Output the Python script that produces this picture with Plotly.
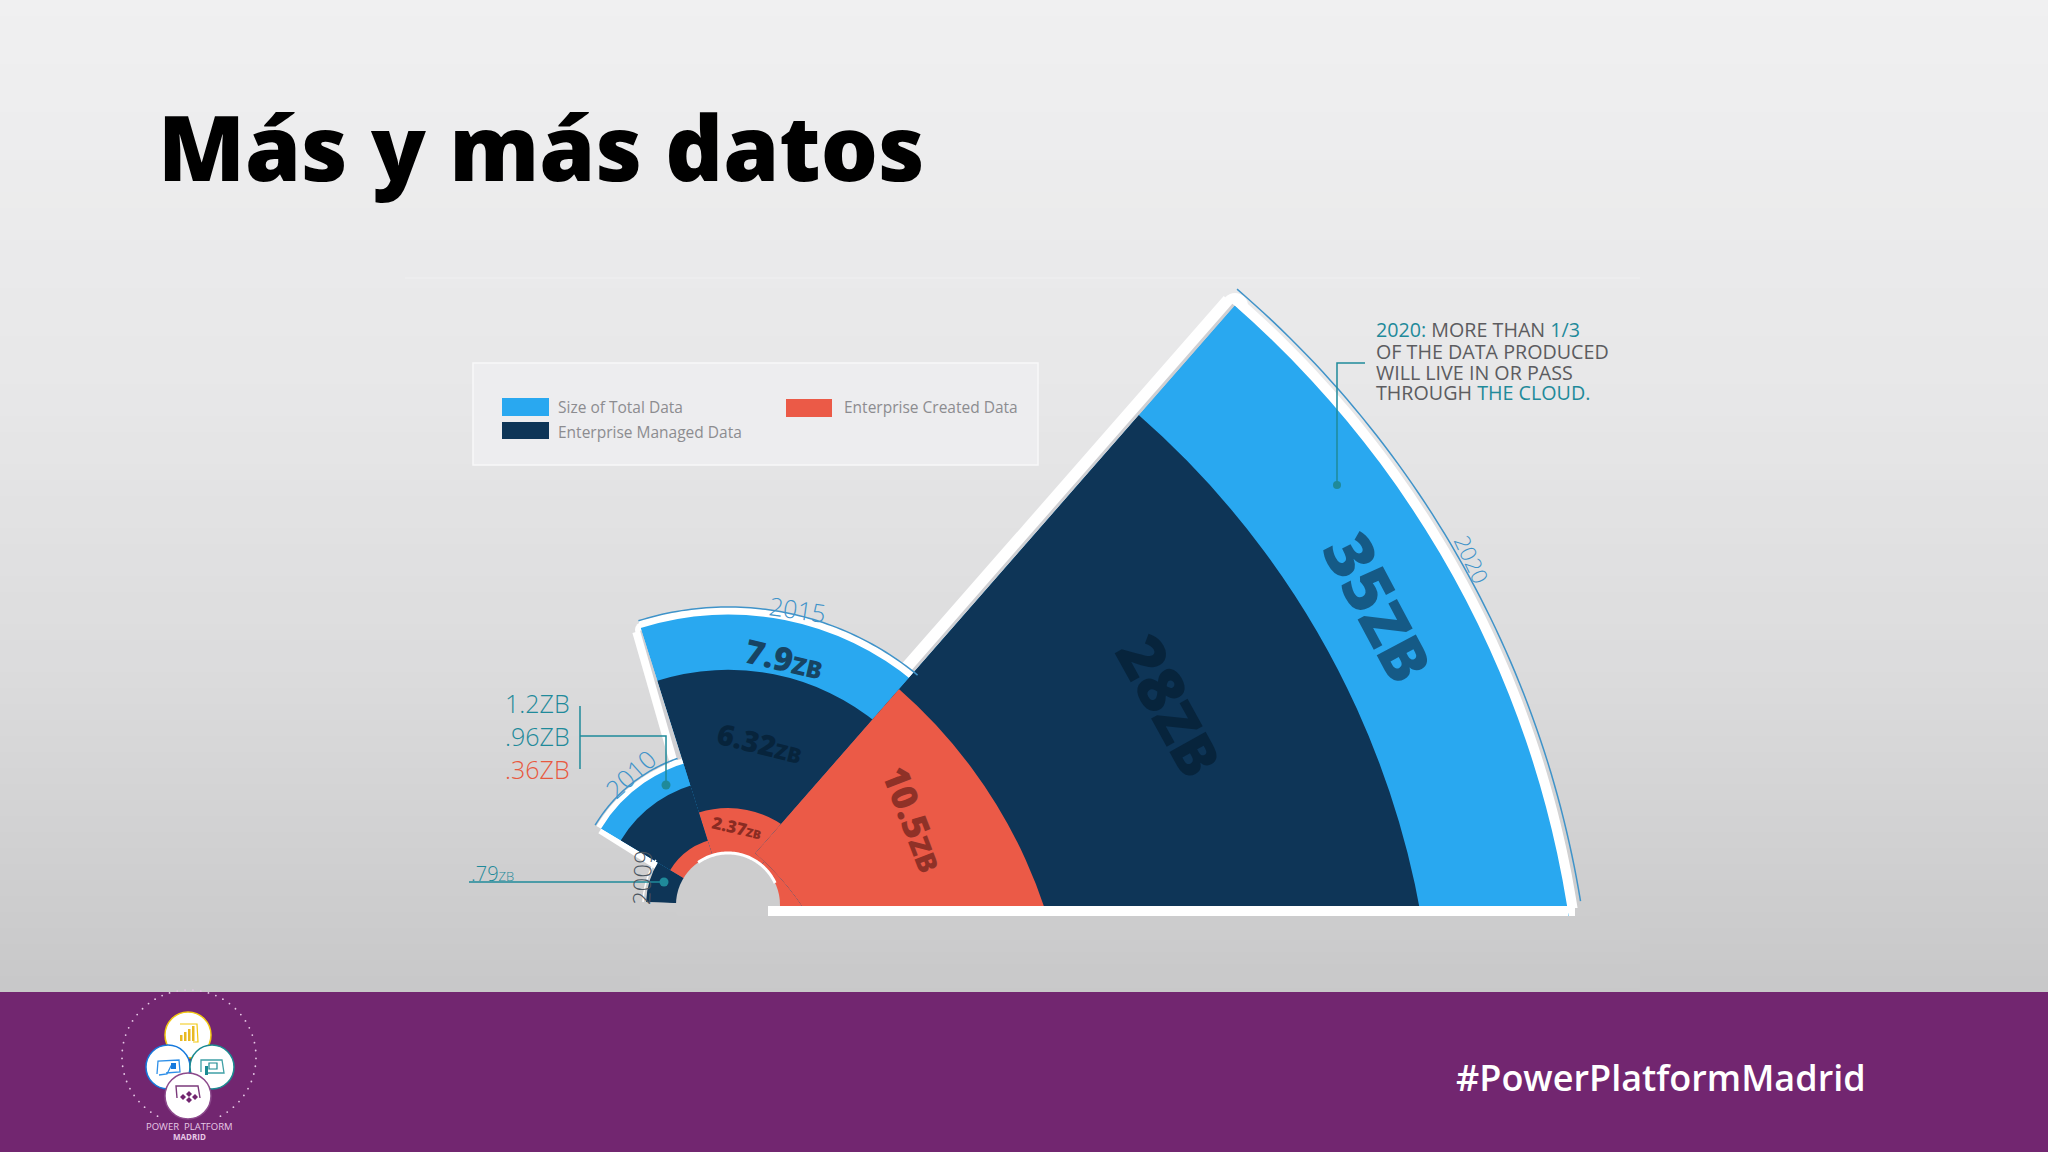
import math
import plotly.graph_objects as go

W, H = 2048, 1152

# values in ZB, one entry per year
years = ['2009', '2010', '2015', '2020']
total_data = [0.79, 1.2, 7.9, 35]
managed_data = [None, 0.96, 6.32, 28]
created_data = [None, 0.36, 2.37, 10.5]

legend_labels = ['Size of Total Data', 'Enterprise Managed Data', 'Enterprise Created Data']

BLUE = '#29A8F0'
NAVY = '#0E3557'
RED = '#EB5A47'
TEAL = '#1F8A9A'
YEAR_BLUE = '#3F93C9'
PURPLE = '#722670'
RIM_SHADE = '#CFCFD2'
FONT = 'Open Sans'

# per year: centre px, px at zero, px per ZB, top of axis, angular sector
polars = {
    '2009': dict(name='polar', cx=728, cy=905, r0=33, k=62, top=0.8, a0=148, a1=178),
    '2010': dict(name='polar2', cx=728, cy=905, r0=33, k=96, top=1.25, a0=100, a1=149),
    '2015': dict(name='polar3', cx=728, cy=905, r0=14, k=35, top=8, a0=50, a1=107.5),
    '2020': dict(name='polar4', cx=568, cy=1067, r0=284, k=20.8, top=36, a0=0, a1=48.8),
}


def px(x):
    return x / W


def py(y):
    return 1 - y / H


def bg_color(y):
    stops = [(0, 240), (400, 231), (700, 218), (992, 200)]
    for (y0, c0), (y1, c1) in zip(stops, stops[1:]):
        if y <= y1:
            c = c0 + (c1 - c0) * (y - y0) / (y1 - y0)
            return f'rgb({c:.0f},{c:.0f},{c + 1:.0f})'
    return 'rgb(200,200,201)'


def rect(x0, y0, x1, y1, fill, layer='above', line=None, lw=0):
    return dict(type='rect', xref='paper', yref='paper', x0=px(x0), x1=px(x1), y0=py(y0), y1=py(y1),
                fillcolor=fill, line=dict(color=line or fill, width=lw), layer=layer)


def circle(cx, cy, r, fill, layer='above', line=None, lw=0):
    return dict(type='circle', xref='paper', yref='paper', x0=px(cx - r), x1=px(cx + r),
                y0=py(cy - r), y1=py(cy + r), fillcolor=fill,
                line=dict(color=line or fill, width=lw), layer=layer)


def segment(points, color, lw, layer='above'):
    path = 'M' + 'L'.join(f'{px(x):.5f},{py(y):.5f}' for x, y in points)
    return dict(type='path', xref='paper', yref='paper', path=path,
                line=dict(color=color, width=lw), layer=layer)


def arc(cx, cy, r, a0, a1, color, lw, layer='above'):
    n = 60
    pts = []
    for i in range(n + 1):
        a = math.radians(a0 + (a1 - a0) * i / n)
        pts.append((cx + r * math.cos(a), cy - r * math.sin(a)))
    return segment(pts, color, lw, layer)


def note(x, y, text, size, color, angle=0, anchor='center', family=FONT, weight=400):
    return dict(xref='paper', yref='paper', x=px(x), y=py(y), text=text, showarrow=False,
                xanchor=anchor, yanchor='middle', textangle=angle,
                font=dict(family=family, size=size, color=color, weight=weight))


def zb(num, small):
    return f'{num}<span style="font-size:{small}px">ZB</span>'


fig = go.Figure()

for i, year in enumerate(years):
    p = polars[year]
    mid = (p['a0'] + p['a1']) / 2
    span = p['a1'] - p['a0']
    sub = p['name']
    series = [(total_data[i], BLUE, legend_labels[0]), (managed_data[i], NAVY, legend_labels[1]),
              (created_data[i], RED, legend_labels[2])]
    if year == '2009':
        series = [(total_data[i], NAVY, legend_labels[1])]
    for val, col, label in series:
        fig.add_trace(go.Barpolar(r=[val], theta=[mid], width=[span], marker=dict(color=col, line=dict(width=0)),
                                  name=label, subplot=sub, showlegend=False, hoverinfo='skip'))

polar_layouts = {}
for year in years:
    p = polars[year]
    R = p['r0'] + p['k'] * p['top']
    c0, c1 = math.cos(math.radians(p['a0'])), math.cos(math.radians(p['a1']))
    s0, s1 = math.sin(math.radians(p['a0'])), math.sin(math.radians(p['a1']))
    xs = [c0, c1, 0]
    ys = [s0, s1, 0]
    if p['a0'] <= 90 <= p['a1']:
        ys.append(1)
    left, right = p['cx'] + R * min(xs), p['cx'] + R * max(xs)
    top, bottom = p['cy'] - R * max(ys), p['cy'] - R * min(ys)
    polar_layouts[p['name']] = dict(
        domain=dict(x=[px(left), px(right)], y=[py(bottom), py(top)]),
        sector=[p['a0'], p['a1']],
        hole=p['r0'] / R,
        bgcolor='rgba(0,0,0,0)',
        radialaxis=dict(range=[0, p['top']], visible=False),
        angularaxis=dict(visible=False, direction='counterclockwise', rotation=0),
        barmode='overlay',
    )

shapes = []

# slide background
for y in range(0, 992, 16):
    shapes.append(rect(0, y, W, y + 16, bg_color(y + 8), layer='below'))
shapes.append(rect(405, 277, 1640, 279, '#EDEDEE', layer='below'))

# white rims sit under the bars
shapes.append(circle(745, 890, 60, 'white', layer='below'))
shapes.append(arc(568, 1067, 274, 32, 48.8, RED, 22, 'below'))
shapes.append(arc(568, 1067, 1012, 5, 48.8, '#FFFFFF', 20, 'below'))
shapes.append(circle(1235, 306, 13, '#FFFFFF', layer='below'))
shapes.append(segment([(905, 683), (1235, 306)], '#FFFFFF', 30, 'below'))
shapes.append(segment([(905, 683), (1235, 306)], RIM_SHADE, 7, 'below'))
shapes.append(arc(728, 905, 291, 50, 107.5, '#FFFFFF', 14, 'below'))
shapes.append(circle(643, 630, 8, '#FFFFFF', layer='below'))
shapes.append(segment([(643, 630), (707, 853)], '#FFFFFF', 22, 'below'))
shapes.append(segment([(643, 630), (707, 853)], RIM_SHADE, 6, 'below'))
shapes.append(arc(728, 905, 148, 100, 149, '#FFFFFF', 11, 'below'))
shapes.append(segment([(601, 829), (660, 866)], '#FFFFFF', 10, 'below'))

# inner hole
shapes.append(circle(728, 905, 52, bg_color(905)))
shapes.append(arc(728, 905, 52, 25, 125, '#FFFFFF', 3))

# hide what falls below the flat bottom edge of the 2020 wedge
for y in range(916, 992, 12):
    shapes.append(rect(640, y, 1640, y + 12, bg_color(y + 6)))
shapes.append(rect(1575, 908, 1600, 916, bg_color(912)))
shapes.append(rect(768, 906, 1568, 916, '#FFFFFF'))

# year arcs
shapes.append(arc(568, 1067, 1026, 9.3, 49.3, YEAR_BLUE, 1.5))
shapes.append(arc(728, 905, 298, 50.5, 107.5, YEAR_BLUE, 1.5))
shapes.append(arc(728, 905, 155, 109, 149, YEAR_BLUE, 1.5))
shapes.append(arc(728, 905, 85, 148, 178, '#FFFFFF', 1.5))

# legend panel
shapes.append(dict(type='rect', xref='paper', yref='paper', x0=px(473), x1=px(1038), y0=py(363), y1=py(465),
                   fillcolor='#EDEDEF', line=dict(color='#F8F8F9', width=1.5), layer='above'))
shapes.append(rect(502, 398, 549, 416, BLUE))
shapes.append(rect(502, 422, 549, 439, NAVY))
shapes.append(rect(786, 399, 832, 417, RED))

# callout leaders
shapes.append(segment([(580, 706), (580, 769)], TEAL, 1.5))
shapes.append(segment([(580, 736), (666, 736), (666, 785)], TEAL, 1.5))
shapes.append(circle(666, 785, 4.5, TEAL))
shapes.append(segment([(469, 882), (664, 882)], TEAL, 1.5))
shapes.append(circle(664, 882, 4.5, TEAL))
shapes.append(segment([(1365, 363), (1337, 363), (1337, 485)], TEAL, 1.5))
shapes.append(circle(1337, 485, 4, TEAL))

# footer band
shapes.append(rect(0, 992, W, H, PURPLE))

# logo
for i in range(46):
    a = math.radians(-62 + i * 304 / 45)
    shapes.append(circle(189 + 67 * math.cos(a), 1057 - 67 * math.sin(a), 0.9, '#E7C9E6'))
shapes.append(circle(188, 1035, 23, 'white', line='#F2C811', lw=1.5))
shapes.append(circle(168, 1067, 22, 'white', line='#1679DD', lw=1.5))
shapes.append(circle(212, 1067, 22, 'white', line='#1B8A92', lw=1.5))
shapes.append(circle(188, 1096, 23, 'white', line='#8C4A8C', lw=1.5))
for bx, btop in zip([180, 184, 188, 192], [1035, 1032, 1029, 1026]):
    shapes.append(rect(bx, btop, bx + 2.5, 1041, '#E8B923'))
shapes.append(segment([(180, 1024), (197, 1024), (198, 1042), (193, 1042)], '#F2C811', 1.2))
shapes.append(segment([(157, 1074), (158, 1061), (179, 1060), (180, 1072), (166, 1073)], '#2E8FE8', 1.3))
shapes.append(segment([(159, 1075), (167, 1074), (171, 1066), (174, 1066)], '#2E8FE8', 1.3))
shapes.append(rect(171, 1063, 176, 1069, '#1679DD'))
shapes.append(segment([(201, 1072), (201, 1060), (222, 1060), (224, 1073), (208, 1073)], '#3FA0A6', 1.3))
shapes.append(rect(205, 1066, 208, 1075, '#1B8A92'))
shapes.append(rect(209, 1063, 217, 1069, 'white', line='#1B8A92', lw=1.2))
shapes.append(segment([(177, 1098), (176, 1086), (198, 1086), (200, 1098)], '#7B3A7B', 1.4))
for dx, dy in [(183, 1097), (189, 1094), (189, 1100), (195, 1097)]:
    shapes.append(dict(type='path', xref='paper', yref='paper', layer='above', fillcolor='#722670',
                       line=dict(width=0),
                       path=(f'M{px(dx - 3):.5f},{py(dy):.5f}L{px(dx):.5f},{py(dy - 3):.5f}'
                             f'L{px(dx + 3):.5f},{py(dy):.5f}L{px(dx):.5f},{py(dy + 3):.5f}Z')))

DARK_NAVY = '#07243C'
GREY_TEXT = '#5C5C60'
annotations = [
    note(156, 146, 'Más y más datos', 90, '#000000', anchor='left', family='Noto Sans', weight=900),
    note(1868, 1077, '#PowerPlatformMadrid', 36, '#FFFFFF', anchor='right', weight=600),
    note(556, 407, legend_labels[0], 15.5, '#8C8C90', anchor='left'),
    note(556, 432, legend_labels[1], 15.5, '#8C8C90', anchor='left'),
    note(842, 407, legend_labels[2], 15.5, '#8C8C90', anchor='left'),
    note(1380, 606, zb('35', 62), 66, '#155A86', angle=62, weight=800),
    note(1172, 705, zb('28', 58), 64, DARK_NAVY, angle=61, weight=800),
    note(914, 819, zb('10.5', 28), 36, '#8F3127', angle=69, weight=800),
    note(784, 658, zb('7.9', 24), 33, '#174463', angle=13, weight=800),
    note(760, 742, zb('6.32', 21), 29, DARK_NAVY, angle=14, weight=800),
    note(737, 827, zb('2.37', 12), 17, '#8A2B22', angle=13, weight=800),
    note(1472, 559, '2020', 22, YEAR_BLUE, angle=65, weight=300),
    note(797, 609, '2015', 25, YEAR_BLUE, angle=8, weight=300),
    note(630, 774, '2010', 25, YEAR_BLUE, angle=-42, weight=300),
    note(641, 878, '2009', 24, '#4A5560', angle=-88, weight=300),
    note(572, 703, '1.2ZB', 25, TEAL, anchor='right', weight=300),
    note(572, 736, '.96ZB', 25, TEAL, anchor='right', weight=300),
    note(572, 769, '.36ZB', 25, '#E8593F', anchor='right', weight=300),
    note(469, 873, '.79<span style="font-size:13px">ZB</span>', 20, TEAL, anchor='left', weight=300),
    note(1374, 330, f'<span style="color:{TEAL}">2020:</span> MORE THAN <span style="color:{TEAL}">1/3</span>',
         19.7, GREY_TEXT, anchor='left'),
    note(1374, 351, 'OF THE DATA PRODUCED', 19.7, GREY_TEXT, anchor='left'),
    note(1374, 372, 'WILL LIVE IN OR PASS', 19.7, GREY_TEXT, anchor='left'),
    note(1374, 392, f'THROUGH <span style="color:{TEAL}">THE CLOUD.</span>', 19.7, GREY_TEXT, anchor='left'),
    note(189, 1126, 'POWER  PLATFORM', 9.5, '#E7C9E6'),
    note(189, 1136, '<b>MADRID</b>', 8, '#E7C9E6'),
]

fig.update_layout(width=W, height=H, margin=dict(l=0, r=0, t=0, b=0), autosize=False,
                  paper_bgcolor='#E4E4E6', plot_bgcolor='rgba(0,0,0,0)', showlegend=False,
                  shapes=shapes, annotations=annotations, font=dict(family=FONT),
                  **polar_layouts)

fig.write_html("out.html", config=dict(displayModeBar=False),
               post_script="document.body.style.margin='0';")
